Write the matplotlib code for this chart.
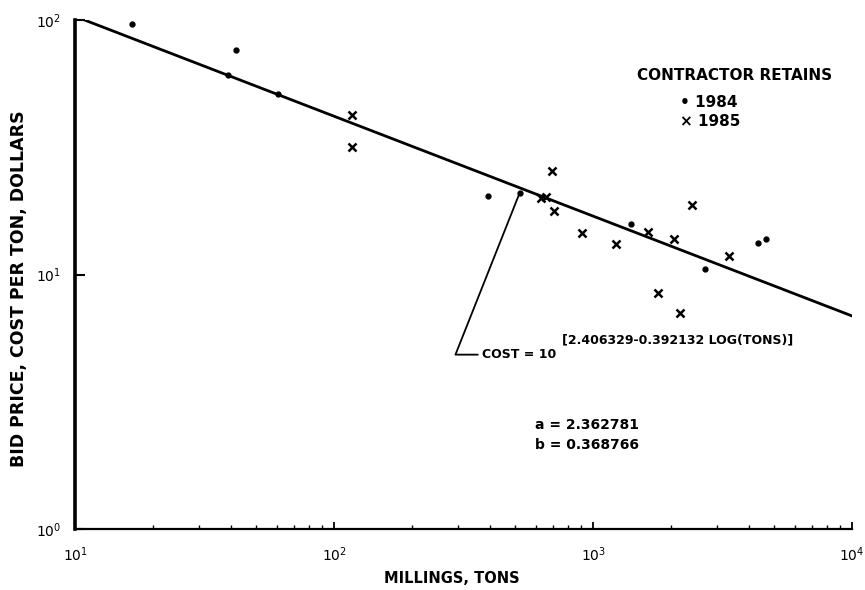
import numpy as np
import matplotlib.pyplot as plt

plt.rcParams['font.family'] = ['DejaVu Sans']
plt.rcParams['mathtext.default'] = 'bf'

# 1984 contract data (tons, $/ton)
tons_1984 = [16.6, 38.8, 41.7, 60.7, 392, 521, 1403, 2716, 4325, 4645]
cost_1984 = [96.5, 60.8, 76.3, 51.3, 20.4, 21.0, 15.8, 10.55, 13.35, 13.8]

# 1985 contract data
tons_1985 = [117.5, 117.5, 628, 658, 693, 706, 906, 1228, 1633, 1786, 2062, 2172, 2399, 3334]
cost_1985 = [42.4, 31.8, 20.0, 20.2, 25.6, 17.8, 14.6, 13.2, 14.7, 8.5, 13.8, 7.1, 18.7, 11.8]

# regression: cost = 10^(a0 - a1*log(tons))
a0 = 2.406329
a1 = 0.392132
fit_x = np.logspace(1, 4, 50)
fit_y = 10 ** (a0 - a1 * np.log10(fit_x))

fig = plt.figure(figsize=(8.65, 5.9), dpi=100)
ax = fig.add_axes([0.087, 0.103, 0.898, 0.863])

ax.plot(fit_x, fit_y, color='black', lw=2.0)
ax.plot(tons_1984, cost_1984, 'o', color='black', ms=3.5)
ax.plot(tons_1985, cost_1985, 'x', color='black', ms=5.5, mew=1.8)

# leader from the equation to the line
lead_x = [521, 294, 358]
lead_y = [21.0, 4.85, 4.85]
ax.plot(lead_x, lead_y, color='black', lw=1.3)

ax.set_xscale('log')
ax.set_yscale('log')
ax.set_xlim(10, 1e4)
ax.set_ylim(1, 100)

for s in ['top', 'right']:
    ax.spines[s].set_visible(False)
ax.spines['left'].set_linewidth(2.6)
ax.spines['bottom'].set_linewidth(1.6)

ax.set_xticks([10, 100, 1000, 10000])
ax.set_yticks([1, 10, 100])
ax.tick_params(axis='x', which='major', direction='in', length=5, width=1.3,
               labelsize=10, pad=12)
ax.tick_params(axis='x', which='minor', direction='in', length=3, width=1.0)
ax.tick_params(axis='y', which='major', direction='in', length=7, width=1.5,
               labelsize=10, pad=10)
ax.tick_params(axis='y', which='minor', left=False)

ax.set_xlabel('MILLINGS, TONS', fontsize=10.5, fontweight='bold', va='center')
ax.xaxis.set_label_coords(0.485, -0.096)
ax.set_ylabel('BID PRICE, COST PER TON, DOLLARS', fontsize=12.5,
              fontweight='bold', va='center')
ax.yaxis.set_label_coords(-0.073, 0.473)

ax.text(0.723, 0.892, 'CONTRACTOR RETAINS', transform=ax.transAxes,
        fontsize=11, fontweight='bold', va='center')
ax.text(0.779, 0.839, '\u2022 1984', transform=ax.transAxes,
        fontsize=11, fontweight='bold', va='center')
ax.text(0.779, 0.800, '\u00d7 1985', transform=ax.transAxes,
        fontsize=11, fontweight='bold', va='center')

ax.text(372, 4.85, 'COST = 10', fontsize=9, fontweight='bold', va='center')
ax.text(759, 5.53, '[2.406329-0.392132 LOG(TONS)]', fontsize=9,
        fontweight='bold', va='center')

ax.text(597, 0.204, 'a = 2.362781', transform=ax.get_xaxis_transform(),
        fontsize=10, fontweight='bold', va='center')
ax.text(597, 0.165, 'b = 0.368766', transform=ax.get_xaxis_transform(),
        fontsize=10, fontweight='bold', va='center')

fig.savefig('out.png', dpi=100)
